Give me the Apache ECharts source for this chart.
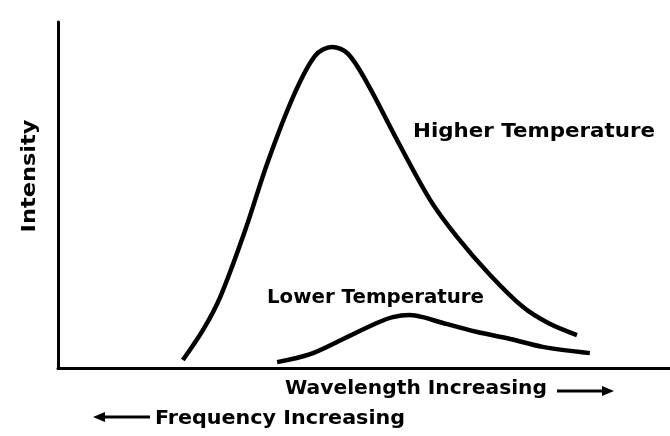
<!DOCTYPE html>
<html><head><meta charset="utf-8">
<script src="https://cdn.jsdelivr.net/npm/echarts@6/dist/echarts.min.js"></script>
<style>html,body{margin:0;padding:0;background:#fff}#c{width:670px;height:436px}</style>
</head><body><div id="c"></div>
<script>
// Wavelength (arbitrary units, 0-100) and intensity (arbitrary units, 0-100)
var higherWavelength = [20.4, 23.7, 26.5, 30.6, 34.2, 38.4, 42.0, 44.8, 47.4, 50.5, 55.4, 60.8, 65.2, 70.6, 76.0, 80.1, 84.8];
var higherIntensity  = [2.3, 11.0, 20.5, 39.9, 59.2, 78.3, 90.2, 92.8, 90.8, 82.4, 65.9, 48.6, 37.9, 26.9, 17.6, 13.0, 9.5];
var lowerWavelength  = [35.8, 41.2, 46.6, 52.1, 54.7, 57.5, 59.6, 62.9, 68.5, 73.9, 79.2, 86.9];
var lowerIntensity   = [1.7, 4.0, 8.4, 13.0, 14.7, 15.3, 14.7, 13.0, 10.4, 8.4, 6.1, 4.3];
var seriesNames = ['Higher Temperature', 'Lower Temperature'];
var axisTitles = {x: 'Wavelength Increasing', x2: 'Frequency Increasing', y: 'Intensity'};

function pairs(xs, ys){ return xs.map(function(x,i){ return [x, ys[i]]; }); }

var font = 'bold 20px "DejaVu Sans", sans-serif';
var mctx = document.createElement('canvas').getContext('2d');
function fitScale(text, w){ mctx.font = font; return w / mctx.measureText(text).width; }
function label(text, x, y, w, rot){
  var el = {type: 'text', x: x, y: y, scaleX: fitScale(text, w), scaleY: 1,
    style: {text: text, font: font, fill: '#000', align: 'left', verticalAlign: 'middle'}};
  if (rot) { el.rotation = rot; el.style.align = 'center'; }
  return el;
}

var chart = echarts.init(document.getElementById('c'), null, {renderer:'canvas'});
chart.setOption({
  animation: false,
  backgroundColor: '#fff',
  grid: {left: 58, right: 0, top: 22, bottom: 68},
  xAxis: {type: 'value', min: 0, max: 100,
    axisLine: {show: true, lineStyle: {color: '#000', width: 3}},
    axisTick: {show: false}, axisLabel: {show: false}, splitLine: {show: false}},
  yAxis: {type: 'value', min: 0, max: 100,
    axisLine: {show: true, lineStyle: {color: '#000', width: 3}},
    axisTick: {show: false}, axisLabel: {show: false}, splitLine: {show: false}},
  series: [
    {name: seriesNames[0], type: 'line', data: pairs(higherWavelength, higherIntensity), smooth: 0.33,
     showSymbol: false, lineStyle: {color: '#000', width: 4.5, cap: 'butt'}},
    {name: seriesNames[1], type: 'line', data: pairs(lowerWavelength, lowerIntensity), smooth: 0.33,
     showSymbol: false, lineStyle: {color: '#000', width: 4.5, cap: 'butt'}}
  ],
  graphic: [
    label(seriesNames[0], 413, 132, 242),
    label(seriesNames[1], 267, 298, 217),
    label(axisTitles.x, 285, 389, 262),
    label(axisTitles.x2, 155, 419, 250),
    label(axisTitles.y, 30, 176, 113, Math.PI/2),
    {type: 'line', shape: {x1: 557, y1: 391, x2: 604, y2: 391}, style: {stroke: '#000', lineWidth: 3}},
    {type: 'polygon', shape: {points: [[602, 386], [614, 391], [602, 396]]}, style: {fill: '#000'}},
    {type: 'line', shape: {x1: 104, y1: 417, x2: 150, y2: 417}, style: {stroke: '#000', lineWidth: 3}},
    {type: 'polygon', shape: {points: [[105, 412], [93, 417], [105, 422]]}, style: {fill: '#000'}}
  ]
});
</script></body></html>
